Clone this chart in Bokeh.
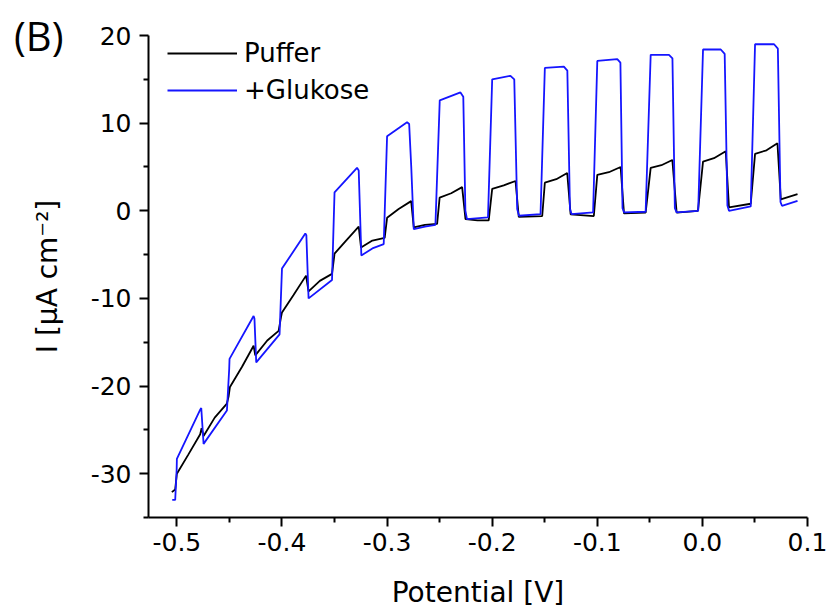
from bokeh.plotting import figure
from bokeh.models import Legend, LegendItem, FixedTicker, PrintfTickFormatter, LinearAxis
from bokeh.embed import file_html
from bokeh.resources import INLINE

# ---- data ----
puffer_v = [-0.5048, -0.5016, -0.5000, -0.4890, -0.4778, -0.4765, -0.4746, -0.4640, -0.4524,
            -0.4508, -0.4495, -0.4380, -0.4270, -0.4254, -0.4140, -0.4032, -0.4010, -0.4000,
            -0.3890, -0.3771, -0.3747, -0.3640, -0.3524, -0.3500, -0.3390, -0.3270, -0.3248,
            -0.3140, -0.3023, -0.3000, -0.2890, -0.2771, -0.2746, -0.2640, -0.2524, -0.2500,
            -0.2390, -0.2286, -0.2254, -0.2140, -0.2033, -0.2000, -0.1890, -0.1778, -0.1747,
            -0.1524, -0.1499, -0.1390, -0.1286, -0.1254, -0.1033, -0.1000, -0.0890, -0.0778,
            -0.0746, -0.0540, -0.0492, -0.0390, -0.0286, -0.0245, -0.0042, 0.0006, 0.0110,
            0.0222, 0.0253, 0.0460, 0.0501, 0.0610, 0.0714, 0.0746, 0.0905]
puffer_i = [-32.1, -31.8, -30.0, -27.8, -25.5, -24.8, -25.7, -23.6, -22.0,
            -21.2, -20.1, -17.8, -15.4, -16.5, -14.8, -13.7, -12.2, -11.6,
            -9.6, -7.4, -9.2, -8.0, -7.2, -4.9, -3.4, -1.8, -4.2,
            -3.4, -3.1, -0.8, 0.2, 1.1, -1.9, -1.6, -1.5, 1.5,
            2.0, 2.7, -0.95, -1.1, -1.1, 2.5, 2.9, 3.4, -0.7,
            -0.6, 3.2, 3.6, 4.3, -0.4, -0.6, 4.1, 4.4, 5.0,
            -0.3, -0.2, 4.9, 5.2, 5.8, -0.2, 0.0, 5.6, 6.0,
            6.8, 0.4, 0.8, 6.5, 6.9, 7.7, 1.3, 1.9]

glukose_v = [-0.5044, -0.5016, -0.5002, -0.5000, -0.4778, -0.4768, -0.4746, -0.4524, -0.4502,
             -0.4499, -0.4270, -0.4262, -0.4245, -0.4023, -0.4000, -0.3778, -0.3768, -0.3747,
             -0.3524, -0.3500, -0.3286, -0.3270, -0.3245, -0.3140, -0.3032, -0.3000, -0.2810,
             -0.2790, -0.2770, -0.2746, -0.2640, -0.2540,
             -0.2499, -0.2302, -0.2275, -0.2255, -0.2240, -0.2040,
             -0.2000, -0.1826, -0.1790, -0.1762, -0.1745, -0.1540,
             -0.1499, -0.1318, -0.1285, -0.1260, -0.1245, -0.1040,
             -0.1000, -0.0810, -0.0780, -0.0760, -0.0745, -0.0540,
             -0.0492, -0.0318, -0.0285, -0.0262, -0.0245, -0.0040,
             0.0006, 0.0175, 0.0212, 0.0238, 0.0253, 0.0460,
             0.0501, 0.0682, 0.0718, 0.0743, 0.0757, 0.0905]
glukose_i = [-33.0, -33.0, -29.5, -28.3, -22.7, -22.5, -26.6, -22.8, -18.0,
             -16.9, -12.0, -12.3, -17.3, -14.1, -6.6, -2.6, -2.8, -10.0,
             -7.9, 2.1, 4.9, 4.6, -5.1, -4.3, -3.8, 8.5, 10.1,
             9.9, 5.0, -2.1, -1.8, -1.6,
             12.6, 13.5, 13.0, 0.0, -0.95, -0.76,
             15.0, 15.4, 15.0, 0.2, -0.57, -0.38,
             16.3, 16.45, 16.0, 0.2, -0.38, -0.19,
             17.1, 17.3, 16.9, 0.3, -0.19, -0.11,
             17.8, 17.8, 17.4, 0.3, -0.19, 0.0,
             18.4, 18.4, 17.9, 0.6, 0.0, 0.5,
             19.0, 19.0, 18.5, 1.0, 0.57, 1.14]

series_names = ["Puffer", "+Glukose"]
series_colors = ["#000000", "#1515ff"]

x_ticks = [-0.5, -0.4, -0.3, -0.2, -0.1, 0.0, 0.1]
x_tick_labels = ["-0.5", "-0.4", "-0.3", "-0.2", "-0.1", "0.0", "0.1"]
x_minor_ticks = [-0.45, -0.35, -0.25, -0.15, -0.05, 0.05]
y_ticks = [-30, -20, -10, 0, 10, 20]
y_tick_labels = ["-30", "-20", "-10", "0", "10", "20"]
y_minor_ticks = [-35, -25, -15, -5, 5, 15]

x_label = "Potential [V]"
y_label = "I [µA cm⁻²]"
panel_label = "(B)"
panel_label_level = 19.95   # vertical placement of the panel letter, in y units

# ---- figure ----
p = figure(frame_width=659, frame_height=482,
           min_border_left=148, min_border_top=35, min_border_right=20, min_border_bottom=98,
           x_range=(-0.527, 0.1), y_range=(-35, 20),
           output_backend="svg", toolbar_location=None)
p.outline_line_color = None
p.grid.visible = False
p.background_fill_color = "white"
p.border_fill_color = "white"

r1 = p.line(puffer_v, puffer_i, line_color=series_colors[0], line_width=1.8)
r2 = p.line(glukose_v, glukose_i, line_color=series_colors[1], line_width=1.8)

p.xaxis.ticker = FixedTicker(ticks=x_ticks, minor_ticks=x_minor_ticks)
p.yaxis.ticker = FixedTicker(ticks=y_ticks, minor_ticks=y_minor_ticks)
p.xaxis.formatter = PrintfTickFormatter(format="%.1f")
p.yaxis.formatter = PrintfTickFormatter(format="%d")
p.xaxis.major_label_overrides = {t: l for t, l in zip(x_ticks, x_tick_labels)}
p.yaxis.major_label_overrides = {t: l for t, l in zip(y_ticks, y_tick_labels)}

for ax in (p.xaxis[0], p.yaxis[0]):
    ax.axis_line_width = 2
    ax.axis_line_color = "black"
    ax.major_tick_line_width = 2
    ax.minor_tick_line_width = 2
    ax.major_tick_line_color = "black"
    ax.minor_tick_line_color = "black"
    ax.major_tick_out = 9
    ax.major_tick_in = 0
    ax.minor_tick_out = 5
    ax.minor_tick_in = 0
    ax.major_label_text_font = "DejaVu Sans"
    ax.major_label_text_font_size = "25px"
    ax.major_label_text_color = "black"
    ax.axis_label_text_font = "DejaVu Sans"
    ax.axis_label_text_font_size = "28px"
    ax.axis_label_text_font_style = "normal"
    ax.axis_label_text_color = "black"

p.xaxis.axis_label = x_label
p.yaxis.axis_label = y_label
p.xaxis.major_label_standoff = 6
p.yaxis.major_label_standoff = 8
p.xaxis.axis_label_standoff = 22
p.yaxis.axis_label_standoff = 24

legend = Legend(items=[LegendItem(label=series_names[0], renderers=[r1]),
                       LegendItem(label=series_names[1], renderers=[r2])],
                location=(19, 412), padding=0, margin=0,
                border_line_color=None, background_fill_alpha=0,
                glyph_width=70, glyph_height=30, label_height=30, spacing=7,
                label_standoff=7, label_text_font="DejaVu Sans",
                label_text_font_size="26px", label_text_color="black")
p.add_layout(legend)

# panel letter "(B)": an outer, line-less left axis whose only tick label is the letter
tag_axis = LinearAxis(ticker=FixedTicker(ticks=[panel_label_level], minor_ticks=[]),
                      formatter=PrintfTickFormatter(format=panel_label),
                      axis_line_color=None, major_tick_line_color=None,
                      minor_tick_line_color=None, major_tick_out=0, major_tick_in=0,
                      minor_tick_out=0, minor_tick_in=0,
                      major_label_standoff=-36,
                      major_label_text_font="Open Sans", major_label_text_font_size="40px",
                      major_label_text_color="black")
p.add_layout(tag_axis, "left")

open("out.html", "w").write(file_html(p, INLINE))
